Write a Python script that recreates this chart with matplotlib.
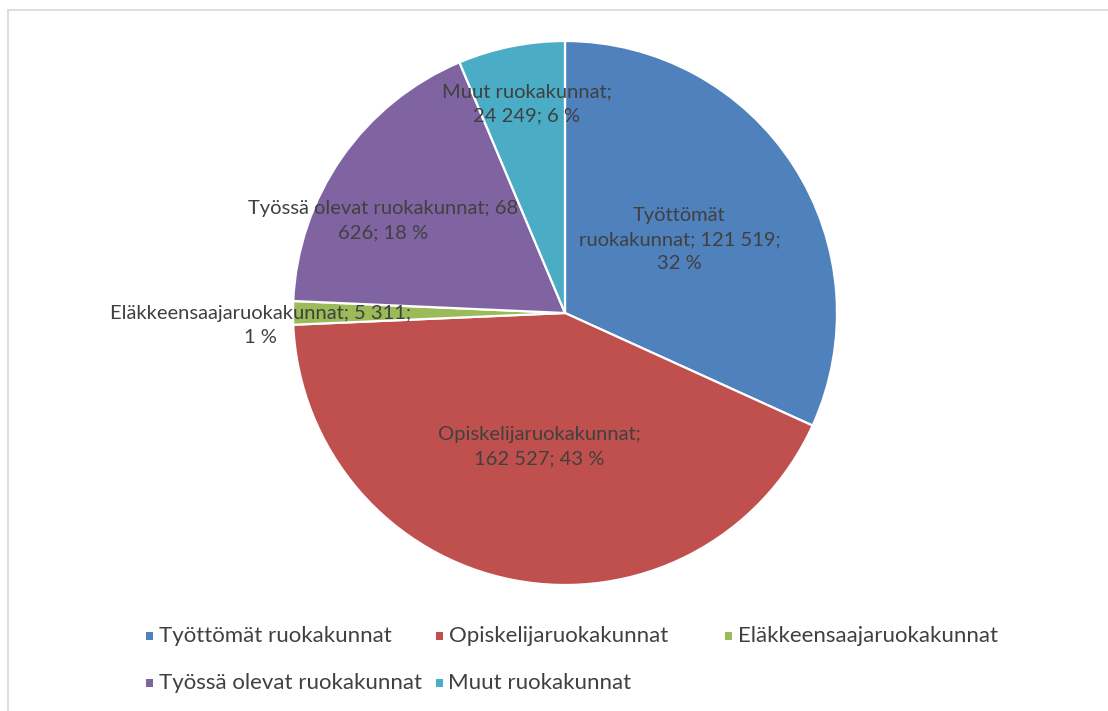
import numpy as np
import matplotlib.pyplot as plt
from matplotlib.patches import Rectangle
from matplotlib.lines import Line2D

# ruokakuntien määrät (pie data)
categories = ["Työttömät ruokakunnat", "Opiskelijaruokakunnat",
              "Eläkkeensaajaruokakunnat", "Työssä olevat ruokakunnat",
              "Muut ruokakunnat"]
values = [121519, 162527, 5311, 68626, 24249]
colors = ["#4F81BD", "#C0504D", "#9BBB59", "#8064A2", "#4BACC6"]

# data label texts with the same line breaks as the original
label_texts = ["Työttömät\nruokakunnat; 121 519;\n32 %",
               "Opiskelijaruokakunnat;\n162 527; 43 %",
               "Eläkkeensaajaruokakunnat; 5 311;\n1 %",
               "Työssä olevat ruokakunnat; 68\n626; 18 %",
               "Muut ruokakunnat;\n24 249; 6 %"]

# label placement (radius fraction, angle tweak in degrees)
label_r = [0.5, 0.5, 1.12, 0.75, 0.78]
label_dang = [0.0, 0.0, 2.3, 8.0, -1.1]

TXT = "#404040"
FONT = "Lato"

W, H = 1108, 711
fig = plt.figure(figsize=(W / 100, H / 100), dpi=100)
fig.patch.set_facecolor("white")

# light frame (only top and left edges visible in the original)
fig.add_artist(Line2D([8 / W, 1.0], [1 - 10 / H, 1 - 10 / H], color="#D9D9D9", lw=1.2))
fig.add_artist(Line2D([8 / W, 8 / W], [0.0, 1 - 10 / H], color="#D9D9D9", lw=1.2))

cx, cy, R = 565, 313, 272
ax = fig.add_axes([(cx - R) / W, (H - cy - R) / H, 2 * R / W, 2 * R / H])
wedges, _ = ax.pie(values, colors=colors, startangle=90, counterclock=False,
                   radius=1, wedgeprops=dict(edgecolor="white", linewidth=1.6))
ax.set_xlim(-1, 1)
ax.set_ylim(-1, 1)
ax.set_aspect("equal")
ax.axis("off")

for w, txt, r, da in zip(wedges, label_texts, label_r, label_dang):
    mid = np.deg2rad((w.theta1 + w.theta2) / 2 + da)
    ax.text(r * np.cos(mid), r * np.sin(mid), txt, ha="center", va="center",
            fontsize=14.5, color=TXT, family=FONT, linespacing=1.5, clip_on=False)

# legend, Excel style flow layout (3 per row)
x0, colw = 146, 289.5
row_y = [636, 683]
for i, (name, c) in enumerate(zip(categories, colors)):
    row, col = divmod(i, 3)
    x = x0 + col * colw
    y = row_y[row]
    fig.add_artist(Rectangle((x / W, (H - y - 4) / H), 7 / W, 8 / H,
                             facecolor=c, edgecolor="none"))
    fig.text((x + 13) / W, (H - y) / H, name, ha="left", va="center",
             fontsize=16, color=TXT, family=FONT)

plt.savefig("out.png", dpi=100)
